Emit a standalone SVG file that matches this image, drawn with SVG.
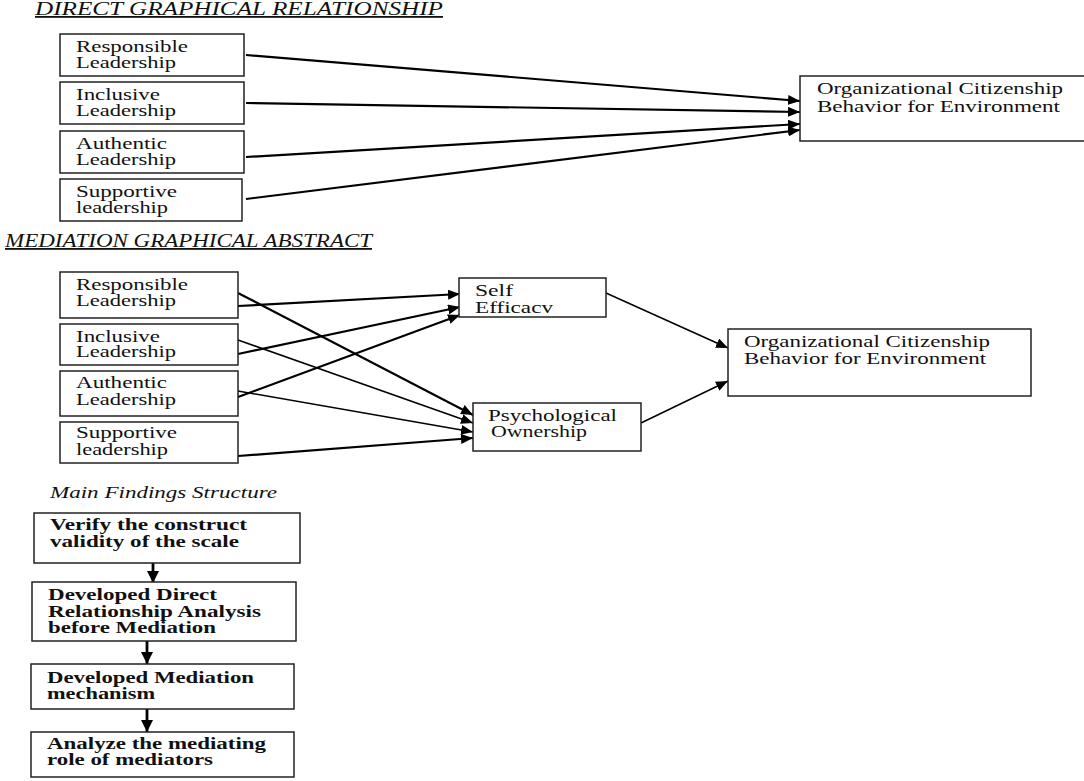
<svg xmlns="http://www.w3.org/2000/svg" width="1084" height="781" viewBox="0 0 1084 781">
<defs>
<marker id="ah" viewBox="0 0 12 10" refX="12" refY="5" markerWidth="12" markerHeight="10" markerUnits="userSpaceOnUse" orient="auto">
<path d="M0,0 L12,5 L0,10 z" fill="#000"/>
</marker>
<marker id="ahb" viewBox="0 0 12 12" refX="12" refY="6" markerWidth="12" markerHeight="12" markerUnits="userSpaceOnUse" orient="auto">
<path d="M0,0 L12,6 L0,12 z" fill="#000"/>
</marker>
</defs>
<style>
.box{fill:#fff;stroke:#222;stroke-width:1.5}
.t{font-family:"Liberation Serif","Times New Roman",serif;font-size:16px;fill:#111}
.b{font-family:"Liberation Serif","Times New Roman",serif;font-size:16px;font-weight:bold;fill:#111}
.h{font-family:"Liberation Serif","Times New Roman",serif;font-size:18px;font-style:italic;fill:#111;text-decoration:underline}
.hi{font-family:"Liberation Serif","Times New Roman",serif;font-size:16px;font-style:italic;fill:#111}
.c{stroke:#000;fill:none;marker-end:url(#ah)}
.cb{stroke:#000;fill:none;stroke-width:2.8;marker-end:url(#ahb)}
.w2{stroke-width:2.2}
.w1{stroke-width:1.5}
</style>
<rect width="1084" height="781" fill="#fff"/>

<text class="h" x="35" y="15" textLength="408" lengthAdjust="spacingAndGlyphs">DIRECT GRAPHICAL RELATIONSHIP</text>
<text class="h" x="5" y="247" textLength="367" lengthAdjust="spacingAndGlyphs">MEDIATION GRAPHICAL ABSTRACT</text>
<text class="hi" x="50" y="498" textLength="227" lengthAdjust="spacingAndGlyphs">Main Findings Structure</text>

<g id="connectors">
<line class="c w2" x1="246" y1="55" x2="800" y2="101"/>
<line class="c w2" x1="246" y1="103" x2="800" y2="112"/>
<line class="c w2" x1="246" y1="157" x2="800" y2="124"/>
<line class="c w2" x1="246" y1="199" x2="800" y2="130"/>

<line class="c w2" x1="238" y1="306" x2="460" y2="294"/>
<line class="c w2" x1="238" y1="293" x2="473" y2="415"/>
<line class="c w2" x1="238" y1="354" x2="460" y2="307"/>
<line class="c w1" x1="238" y1="340" x2="473" y2="423"/>
<line class="c w2" x1="238" y1="397" x2="460" y2="315"/>
<line class="c w1" x1="238" y1="391" x2="473" y2="432"/>
<line class="c w2" x1="238" y1="456" x2="473" y2="438"/>
<line class="c w1" x1="606" y1="293" x2="728" y2="348"/>
<line class="c w1" x1="641" y1="423" x2="728" y2="381"/>

<line class="cb" x1="153" y1="563" x2="153" y2="583"/>
<line class="cb" x1="147" y1="641" x2="147" y2="664"/>
<line class="cb" x1="147" y1="709" x2="147" y2="732"/>
</g>

<g id="d-resp"><rect class="box" x="60" y="34" width="184" height="42"/>
<text class="t" x="76" y="52" textLength="112" lengthAdjust="spacingAndGlyphs">Responsible</text>
<text class="t" x="76" y="68" textLength="100" lengthAdjust="spacingAndGlyphs">Leadership</text></g>
<g id="d-incl"><rect class="box" x="60" y="82" width="184" height="42"/>
<text class="t" x="76" y="100" textLength="84" lengthAdjust="spacingAndGlyphs">Inclusive</text>
<text class="t" x="76" y="116" textLength="100" lengthAdjust="spacingAndGlyphs">Leadership</text></g>
<g id="d-auth"><rect class="box" x="60" y="131" width="184" height="42"/>
<text class="t" x="76" y="149" textLength="91" lengthAdjust="spacingAndGlyphs">Authentic</text>
<text class="t" x="76" y="165" textLength="100" lengthAdjust="spacingAndGlyphs">Leadership</text></g>
<g id="d-supp"><rect class="box" x="60" y="179" width="182" height="42"/>
<text class="t" x="76" y="197" textLength="101" lengthAdjust="spacingAndGlyphs">Supportive</text>
<text class="t" x="76" y="213" textLength="92" lengthAdjust="spacingAndGlyphs">leadership</text></g>
<g id="d-ocbe"><rect class="box" x="800" y="76" width="290" height="65"/>
<text class="t" x="817" y="94" textLength="246" lengthAdjust="spacingAndGlyphs">Organizational Citizenship</text>
<text class="t" x="817" y="112" textLength="243" lengthAdjust="spacingAndGlyphs">Behavior for Environment</text></g>

<g id="m-resp"><rect class="box" x="60" y="272" width="178" height="46"/>
<text class="t" x="76" y="290" textLength="112" lengthAdjust="spacingAndGlyphs">Responsible</text>
<text class="t" x="76" y="306" textLength="100" lengthAdjust="spacingAndGlyphs">Leadership</text></g>
<g id="m-incl"><rect class="box" x="60" y="324" width="178" height="41"/>
<text class="t" x="76" y="342" textLength="84" lengthAdjust="spacingAndGlyphs">Inclusive</text>
<text class="t" x="76" y="357" textLength="100" lengthAdjust="spacingAndGlyphs">Leadership</text></g>
<g id="m-auth"><rect class="box" x="60" y="371" width="178" height="45"/>
<text class="t" x="76" y="388" textLength="91" lengthAdjust="spacingAndGlyphs">Authentic</text>
<text class="t" x="76" y="405" textLength="100" lengthAdjust="spacingAndGlyphs">Leadership</text></g>
<g id="m-supp"><rect class="box" x="60" y="422" width="178" height="41"/>
<text class="t" x="76" y="438" textLength="101" lengthAdjust="spacingAndGlyphs">Supportive</text>
<text class="t" x="76" y="455" textLength="92" lengthAdjust="spacingAndGlyphs">leadership</text></g>
<g id="m-self"><rect class="box" x="459" y="278" width="147" height="39"/>
<text class="t" x="475" y="296" textLength="38" lengthAdjust="spacingAndGlyphs">Self</text>
<text class="t" x="475" y="313" textLength="78" lengthAdjust="spacingAndGlyphs">Efficacv</text></g>
<g id="m-psych"><rect class="box" x="473" y="403" width="168" height="48"/>
<text class="t" x="488" y="421" textLength="129" lengthAdjust="spacingAndGlyphs">Psychological</text>
<text class="t" x="491" y="437" textLength="96" lengthAdjust="spacingAndGlyphs">Ownership</text></g>
<g id="m-ocbe"><rect class="box" x="728" y="329" width="303" height="67"/>
<text class="t" x="744" y="347" textLength="246" lengthAdjust="spacingAndGlyphs">Organizational Citizenship</text>
<text class="t" x="744" y="364" textLength="242" lengthAdjust="spacingAndGlyphs">Behavior for Environment</text></g>

<g id="f1"><rect class="box" x="34" y="513" width="266" height="50"/>
<text class="b" x="50" y="530" textLength="197" lengthAdjust="spacingAndGlyphs">Verify the construct</text>
<text class="b" x="50" y="547" textLength="189" lengthAdjust="spacingAndGlyphs">validity of the scale</text></g>
<g id="f2"><rect class="box" x="32" y="582" width="264" height="59"/>
<text class="b" x="48" y="600" textLength="169" lengthAdjust="spacingAndGlyphs">Developed Direct</text>
<text class="b" x="48" y="617" textLength="213" lengthAdjust="spacingAndGlyphs">Relationship Analysis</text>
<text class="b" x="48" y="633" textLength="168" lengthAdjust="spacingAndGlyphs">before Mediation</text></g>
<g id="f3"><rect class="box" x="31" y="664" width="263" height="45"/>
<text class="b" x="47" y="683" textLength="207" lengthAdjust="spacingAndGlyphs">Developed Mediation</text>
<text class="b" x="47" y="699" textLength="108" lengthAdjust="spacingAndGlyphs">mechanism</text></g>
<g id="f4"><rect class="box" x="31" y="732" width="263" height="45"/>
<text class="b" x="47" y="749" textLength="219" lengthAdjust="spacingAndGlyphs">Analyze the mediating</text>
<text class="b" x="47" y="765" textLength="166" lengthAdjust="spacingAndGlyphs">role of mediators</text></g>
</svg>
